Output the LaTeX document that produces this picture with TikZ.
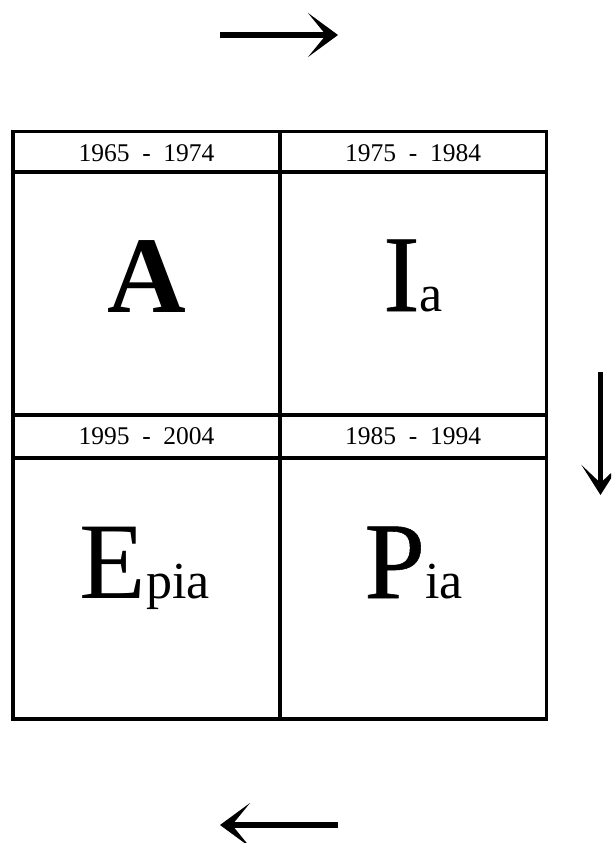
\documentclass[tikz,border=0pt]{standalone}
\usepackage{fontspec}
\setmainfont{Liberation Serif}
\newfontfamily\heavyserif[FakeBold=0.5]{Liberation Serif}
\usetikzlibrary{arrows.meta}
\newcommand{\tailtext}[1]{{\fontsize{52}{52}\selectfont #1}}

\begin{document}
\begin{tikzpicture}[
    x=1pt, y=-1pt,
    grid/.style={line width=3.5pt},
    yr/.style={font=\fontsize{25.5}{25.5}\selectfont, inner sep=0pt},
    big/.style={font=\fontsize{109}{109}\selectfont, inner sep=0pt, anchor=base},
    arr/.style={-{Stealth[length=30pt, width=44pt, inset=18pt]}, line width=6pt},
    arrv/.style={-{Stealth[length=30pt, width=38pt, inset=18pt]}, line width=5pt}
]
    \useasboundingbox (0,0) rectangle (611,843);
    \clip (0,0) rectangle (611,843);

    % grid
    \draw[grid] (13,131.5) rectangle (546.5,719);
    \draw[grid] (280,131.5) -- (280,719);
    \draw[grid] (13,172) -- (546.5,172);
    \draw[grid] (13,415) -- (546.5,415);
    \draw[grid] (13,458) -- (546.5,458);

    % year headers
    \node[yr] (yrA) at (146.5,153.5) {1965~~-~~1974};
    \node[yr] (yrI) at (413,153.5) {1975~~-~~1984};
    \node[yr] (yrE) at (146.5,436.5) {1995~~-~~2004};
    \node[yr] (yrP) at (413,436.5) {1985~~-~~1994};

    % cell letters
    \node[big] (A) at (146.5,312) {\bfseries A};
    \node[big] (Ia) at (413,311) {{\heavyserif I}\tailtext{a}};
    \node[big] (Epia) at (145,598) {E\tailtext{pia}};
    \node[big] (Pia) at (413.5,598) {{\heavyserif P}\tailtext{ia}};

    % cycle arrows
    \coordinate (topS) at (220,35);
    \coordinate (topE) at (338,35);
    \coordinate (rgtS) at (600.5,372);
    \coordinate (rgtE) at (600.5,495);
    \coordinate (botS) at (338,825);
    \coordinate (botE) at (220,825);
    \draw[arr] (topS) -- (topE);
    \draw[arrv] (rgtS) -- (rgtE);
    \draw[arr] (botS) -- (botE);
\end{tikzpicture}
\end{document}
